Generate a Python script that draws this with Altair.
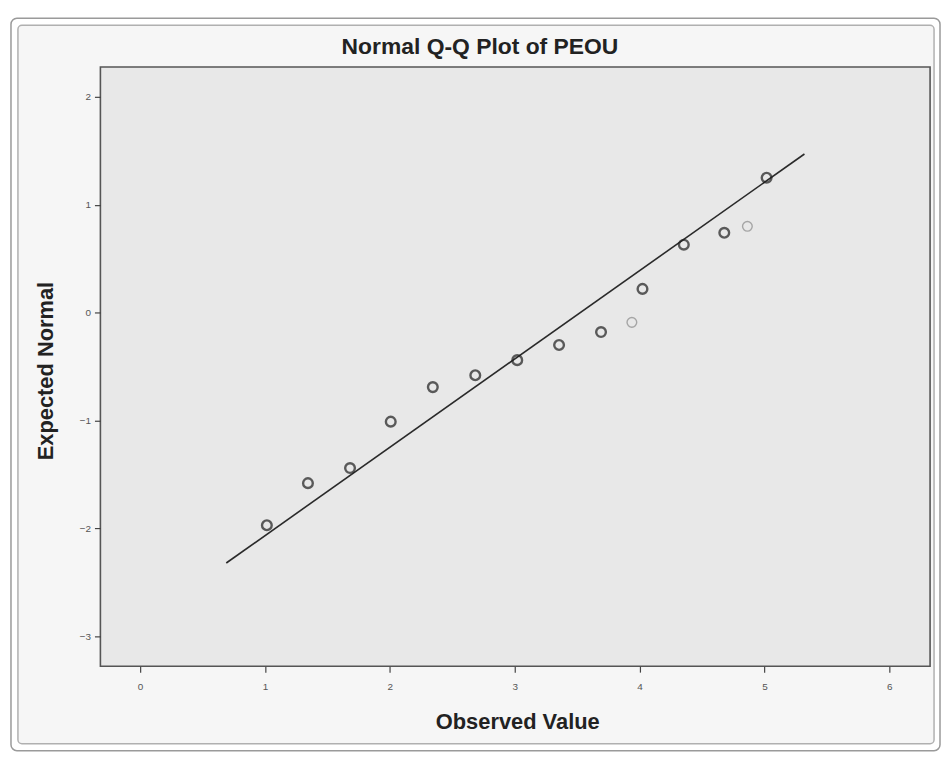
import altair as alt
import pandas as pd

# ---- data ----
observed = [1.015, 1.344, 1.681, 2.007, 2.344, 2.684, 3.02, 3.355, 3.691, 3.938, 4.023, 4.354, 4.678, 4.863, 5.017]
expected = [-1.97, -1.58, -1.44, -1.01, -0.69, -0.58, -0.44, -0.30, -0.18, -0.09, 0.22, 0.63, 0.74, 0.80, 1.25]
faint = ["no", "no", "no", "no", "no", "no", "no", "no", "no", "yes", "no", "no", "no", "yes", "no"]
line_x = [0.69, 5.32]
line_y = [-2.32, 1.47]
x_ticks = [0, 1, 2, 3, 4, 5, 6]
y_ticks = [-3, -2, -1, 0, 1, 2]

title_text = "Normal Q-Q Plot of PEOU"
x_title = "Observed Value"
y_title = "Expected Normal"

W, H = 835, 603
FONT = "Liberation Sans"

pts = pd.DataFrame({"obs": observed, "exp": expected, "faint": faint})
ln = pd.DataFrame({"obs": line_x, "exp": line_y})
dummy = pd.DataFrame({"k": [0]})

xscale = alt.Scale(domain=[-0.318, 6.326], nice=False, zero=False)
yscale = alt.Scale(domain=[-3.276, 2.276], nice=False, zero=False)

axis_common = dict(grid=False, domain=False, ticks=True, tickSize=6, tickColor="#444",
                   tickWidth=1.2, labelFontSize=10, labelColor="#555", labelFont=FONT,
                   title=None, zindex=1, labelFlush=False, format="d")

frame_outer = alt.Chart(dummy).mark_rect(
    fill="#ffffff", stroke="#9a9a9a", strokeWidth=1.5, cornerRadius=6
).encode(x=alt.value(-90), x2=alt.value(845), y=alt.value(-49), y2=alt.value(688))

frame_inner = alt.Chart(dummy).mark_rect(
    fill="#f6f6f6", stroke="#b0b0b0", strokeWidth=1.5, cornerRadius=4
).encode(x=alt.value(-83), x2=alt.value(839), y=alt.value(-42), y2=alt.value(681))

plot_bg = alt.Chart(dummy).mark_rect(
    fill="#e8e8e8", stroke="#555555", strokeWidth=1.6
).encode(x=alt.value(0), x2=alt.value(W), y=alt.value(0), y2=alt.value(H))

ref_line = alt.Chart(ln).mark_line(color="#2a2a2a", strokeWidth=1.6).encode(
    x=alt.X("obs:Q", scale=xscale, axis=alt.Axis(values=x_ticks, labelPadding=9, **axis_common)),
    y=alt.Y("exp:Q", scale=yscale, axis=alt.Axis(values=y_ticks, labelPadding=4, **axis_common)),
)

points = alt.Chart(pts).mark_point(shape="circle", filled=False, size=95).encode(
    x=alt.X("obs:Q", scale=xscale),
    y=alt.Y("exp:Q", scale=yscale),
    stroke=alt.Stroke("faint:N", scale=alt.Scale(domain=["no", "yes"], range=["#1e1e1e", "#8a8a8a"]), legend=None),
    strokeWidth=alt.StrokeWidth("faint:N", scale=alt.Scale(domain=["no", "yes"], range=[2.4, 1.4]), legend=None),
)

title_mark = alt.Chart(pd.DataFrame({"t": [title_text]})).mark_text(
    font=FONT, fontSize=23, fontWeight="bold", color="#222", baseline="middle", align="center"
).encode(text="t:N", x=alt.value(382), y=alt.value(-20))

xt_mark = alt.Chart(pd.DataFrame({"t": [x_title]})).mark_text(
    font=FONT, fontSize=22, fontWeight="bold", color="#222", baseline="middle", align="center"
).encode(text="t:N", x=alt.value(420), y=alt.value(659))

yt_mark = alt.Chart(pd.DataFrame({"t": [y_title]})).mark_text(
    font=FONT, fontSize=22, fontWeight="bold", color="#222", baseline="middle", align="center", angle=270
).encode(text="t:N", x=alt.value(-55), y=alt.value(306))

chart = alt.layer(
    frame_outer, frame_inner, plot_bg, ref_line, points, title_mark, xt_mark, yt_mark
).properties(
    width=W, height=H,
    autosize=alt.AutoSizeParams(type="none"),
    padding={"left": 93, "top": 57, "right": 12, "bottom": 90},
    background="#ffffff",
).configure_view(stroke=None)

chart.save("out.html", embed_options={"renderer": "svg", "actions": False})
